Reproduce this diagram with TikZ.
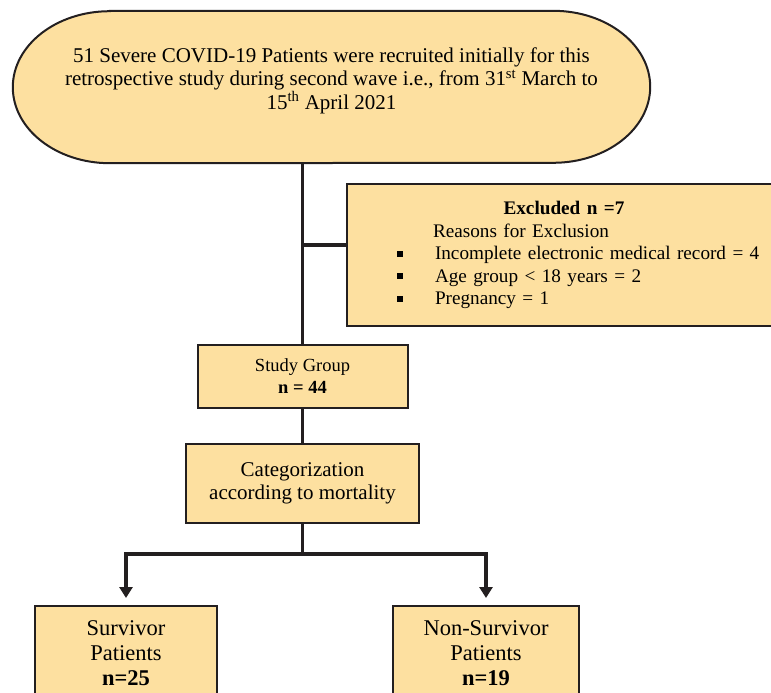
\documentclass[tikz,border=0pt]{standalone}
\usepackage{fontspec}
\setmainfont{Liberation Serif}
\usetikzlibrary{arrows.meta,positioning,backgrounds}
\definecolor{boxfill}{HTML}{FDE0A0}
\definecolor{boxline}{HTML}{231F20}

\begin{document}
\begin{tikzpicture}[x=1pt,y=1pt,node distance=100pt]
	\tikzstyle{stadium} = [rectangle, minimum width=637pt, minimum height=152pt, 
	align=center, font=\fontsize{21}{23.5}\selectfont, text depth=17pt]
	\tikzstyle{process} = [rectangle, text centered, align=center, draw=boxline, 
	line width=2pt, fill=boxfill]
	\tikzstyle{line} = [draw=boxline, line width=2.5pt]
	\tikzstyle{arrow} = [draw=boxline, line width=4pt, -{Triangle[length=11pt,width=13pt]}, shorten >=7pt]
	\useasboundingbox (0,0) rectangle (771,-693);
	\node (start) [stadium] at (331.5,-87) {51 Severe COVID-19 Patients were recruited initially for this\\
	retrospective study during second wave i.e., from 31\textsuperscript{st} March to\\
	15\textsuperscript{th} April 2021};
	\begin{scope}[on background layer]
	\draw [draw=boxline, line width=2pt, fill=boxfill] ([xshift=97pt]start.north west) -- ([xshift=-97pt]start.north east) 
	arc [start angle=90, end angle=-90, x radius=97pt, y radius=76pt] -- ([xshift=97pt]start.south west) 
	arc [start angle=270, end angle=90, x radius=97pt, y radius=76pt] -- cycle;
	\end{scope}
	\node (excluded) [process, below of=start, node distance=168pt, xshift=232.5pt, minimum width=434pt, 
	minimum height=142pt, text width=434pt, inner xsep=0pt, align=left, font=\fontsize{19.2}{22.5}\selectfont] 
	{{\centering\textbf{Excluded n =7}\par}
	\hspace*{86pt}Reasons for Exclusion\\
	\hspace*{50pt}\rule[3pt]{6pt}{6pt}\hspace{32pt}Incomplete electronic medical record = 4\\
	\hspace*{50pt}\rule[3pt]{6pt}{6pt}\hspace{32pt}Age group < 18 years = 2\\
	\hspace*{50pt}\rule[3pt]{6pt}{6pt}\hspace{32pt}Pregnancy = 1};
	\node (study) [process, below of=start, node distance=289.5pt, xshift=-29pt, minimum width=210pt, 
	minimum height=63pt, font=\fontsize{18.5}{22}\selectfont] {Study Group\\\textbf{n = 44}};
	\node (categ) [process, below of=study, node distance=107pt, minimum width=233pt, 
	minimum height=79pt, font=\fontsize{21}{23}\selectfont] {Categorization\\according to mortality};
	\coordinate [below of=categ, node distance=70.5pt] (split);
	\node (survivor) [process, below of=categ, node distance=170pt, xshift=-176.5pt, minimum width=182pt, 
	minimum height=95pt, font=\fontsize{22.5}{25}\selectfont] {Survivor\\Patients\\\textbf{n=25}};
	\node (nonsurvivor) [process, below of=categ, node distance=170pt, xshift=183.5pt, minimum width=186pt, 
	minimum height=95pt, font=\fontsize{22.5}{25}\selectfont] {Non-Survivor\\Patients\\\textbf{n=19}};
	\draw [line] (start.south -| study.north) -- (study.north);
	\draw [line, line width=3.5pt] ([yshift=10pt]excluded.west) -- ([yshift=10pt]excluded.west -| study.north);
	\draw [line] (study) -- (categ);
	\draw [line] (categ) -- (split);
	\draw [arrow] (split) -| (survivor);
	\draw [arrow] (split) -| (nonsurvivor);
\end{tikzpicture}
\end{document}
